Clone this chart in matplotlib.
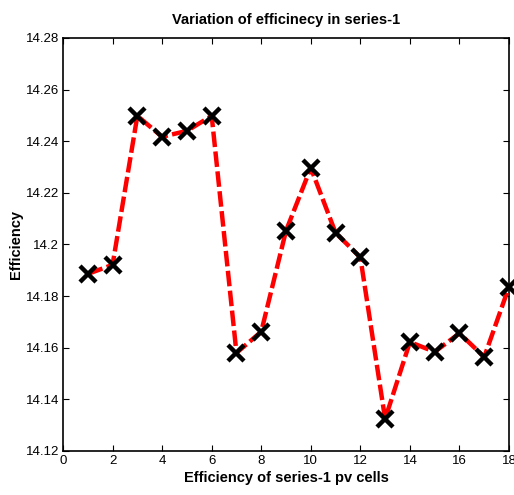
import matplotlib
matplotlib.use("Agg")
import matplotlib.pyplot as plt
from matplotlib.ticker import FuncFormatter

plt.rcParams["font.family"] = ["Liberation Sans", "DejaVu Sans"]

# data
cells = list(range(1, 19))
efficiency = [14.1886, 14.1921, 14.2498, 14.2417, 14.2440, 14.2498,
              14.1580, 14.1662, 14.2053, 14.2297, 14.2045, 14.1950,
              14.1324, 14.1622, 14.1584, 14.1656, 14.1564, 14.1836]

x_ticks = list(range(0, 19, 2))
y_ticks = [14.12, 14.14, 14.16, 14.18, 14.20, 14.22, 14.24, 14.26, 14.28]

fig = plt.figure(figsize=(5.14, 4.95), dpi=100)
ax = fig.add_axes([0.1226, 0.0889, 0.8677, 0.8345])

ax.plot(cells, efficiency, color="red", linestyle=(0, (3.5, 1)), linewidth=3.2,
        marker="x", markersize=12, markeredgewidth=3.2,
        markeredgecolor="black", clip_on=False, zorder=3)

ax.set_xlim(0, 18)
ax.set_ylim(14.12, 14.28)
ax.set_xticks(x_ticks)
ax.set_yticks(y_ticks)
ax.yaxis.set_major_formatter(FuncFormatter(lambda v, p: f"{v:g}"))
ax.tick_params(direction="in", top=True, right=True, length=4, width=0.8,
               labelsize=9.5, pad=3)
for s in ax.spines.values():
    s.set_linewidth(1.2)

ax.set_title("Variation of efficinecy in series-1", fontsize=10.5, fontweight="bold", pad=10)
ax.set_xlabel("Efficiency of series-1 pv cells", fontsize=10.5, fontweight="bold", labelpad=3)
ax.set_ylabel("Efficiency", fontsize=10.5, fontweight="bold")
ax.yaxis.set_label_coords(-0.09, 0.5)

fig.savefig("out.png", dpi=100)
